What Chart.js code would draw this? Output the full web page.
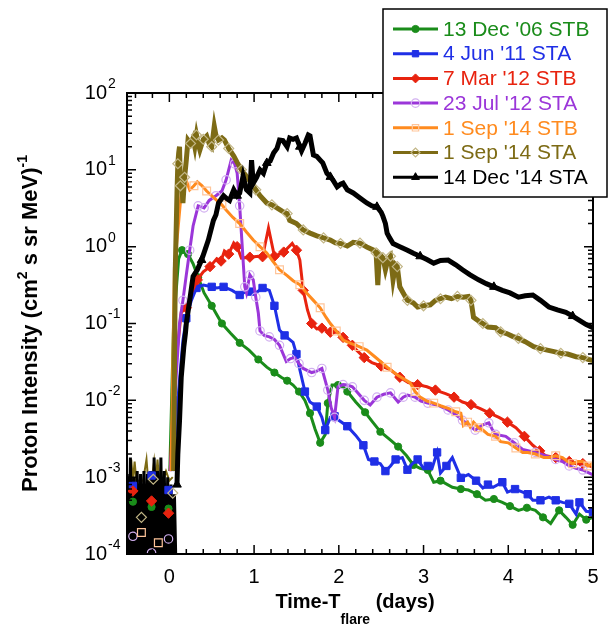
<!DOCTYPE html>
<html><head><meta charset="utf-8">
<script src="https://cdn.jsdelivr.net/npm/chart.js@4.4.1/dist/chart.umd.min.js"></script>
<style>html,body{margin:0;padding:0;background:#fff}</style>
</head><body>
<canvas id="c" width="608" height="640"></canvas>
<script>
// ---------------- data ----------------
const seriesLabels = ["13 Dec '06 STB","4 Jun '11 STA","7 Mar '12 STB","23 Jul '12 STA","1 Sep '14 STB","1 Sep '14 STA","14 Dec '14 STA"];
const xTickValues = [0,1,2,3,4,5];
const yTickExponents = [2,1,0,-1,-2,-3,-4];

const greenX = [-0.43,-0.21,-0.01,0.005,0.05,0.11,0.15,0.18,0.22,0.28,0.34,0.41,0.50,0.56,0.62,0.72,0.83,0.94,1.05,1.15,1.24,1.32,1.39,1.46,1.53,1.60,1.66,1.72,1.78,1.84,1.87,1.92,1.99,2.05,2.10,2.20,2.31,2.40,2.49,2.60,2.70,2.80,2.88,2.96,3.05,3.12,3.20,3.34,3.44,3.53,3.63,3.73,3.83,3.93,4.02,4.12,4.22,4.32,4.41,4.50,4.60,4.68,4.76,4.84,4.92,5.00];
const greenY = [4.8e-4,4.1e-4,3.9e-4,1.2e-3,0.1,0.7,0.9,0.88,0.8,0.6,0.4,0.25,0.17,0.13,0.1,0.075,0.056,0.045,0.034,0.027,0.023,0.02,0.018,0.0158,0.013,0.01,0.0068,0.0042,0.0028,0.0036,0.0092,0.0158,0.0158,0.015,0.013,0.0095,0.007,0.0052,0.0039,0.0031,0.0025,0.0019,0.00144,0.0013,0.00124,0.00086,0.0009,0.00074,0.0007,0.00068,0.0006,0.0005,0.00052,0.00047,0.00042,0.00037,0.0004,0.00037,0.0003,0.00025,0.00037,0.0003,0.00024,0.00033,0.00028,0.0003];

const blueX = [-0.43,-0.21,-0.01,0.04,0.10,0.16,0.20,0.26,0.32,0.40,0.50,0.56,0.64,0.74,0.83,0.90,0.96,1.02,1.10,1.18,1.24,1.30,1.36,1.46,1.50,1.54,1.60,1.66,1.74,1.80,1.84,1.90,1.95,2.00,2.10,2.20,2.29,2.35,2.42,2.49,2.55,2.61,2.67,2.75,2.81,2.87,2.93,3.00,3.05,3.10,3.16,3.20,3.27,3.34,3.44,3.53,3.62,3.70,3.76,3.82,3.93,3.99,4.08,4.17,4.23,4.29,4.38,4.48,4.56,4.64,4.72,4.80,4.84,4.92,5.00];
const blueY = [7.7e-4,1.05e-3,6.8e-4,1.2e-3,0.01,0.06,0.117,0.2,0.29,0.316,0.3,0.29,0.3,0.27,0.235,0.26,0.26,0.25,0.29,0.27,0.17,0.082,0.07,0.057,0.04,0.025,0.013,0.0095,0.0083,0.006,0.0041,0.006,0.0062,0.0055,0.0046,0.0035,0.0026,0.0017,0.0016,0.0015,0.0012,0.0014,0.0017,0.0018,0.00125,0.0015,0.0017,0.0013,0.0014,0.0013,0.0021,0.00113,0.0014,0.0018,0.00098,0.00108,0.0009,0.00072,0.0008,0.00074,0.00086,0.00064,0.0007,0.00064,0.0006,0.0005,0.0005,0.00055,0.0005,0.00047,0.00045,0.00033,0.00047,0.00036,0.00035];

const redX = [-0.43,-0.21,-0.01,0.01,0.06,0.14,0.20,0.26,0.33,0.40,0.48,0.56,0.61,0.65,0.70,0.76,0.80,0.85,0.95,1.05,1.10,1.17,1.24,1.30,1.35,1.45,1.50,1.54,1.58,1.63,1.68,1.74,1.80,1.86,1.90,1.99,2.05,2.10,2.16,2.21,2.30,2.39,2.50,2.61,2.72,2.82,2.93,3.04,3.14,3.26,3.36,3.46,3.56,3.67,3.78,3.89,3.99,4.09,4.19,4.29,4.37,4.44,4.56,4.64,4.72,4.80,4.88,5.00];
const redY = [6.6e-4,4.9e-4,3.4e-4,1.2e-3,0.02,0.14,0.16,0.25,0.37,0.47,0.55,0.7,0.65,0.88,0.8,1.12,1.0,0.71,0.73,0.75,0.74,1.75,0.75,0.8,0.85,1.1,0.9,0.67,0.27,0.15,0.1,0.085,0.087,0.08,0.077,0.077,0.066,0.061,0.052,0.045,0.036,0.031,0.028,0.025,0.02,0.017,0.016,0.015,0.0136,0.0122,0.011,0.0095,0.0088,0.0078,0.0068,0.006,0.0052,0.0044,0.0034,0.0026,0.0022,0.0019,0.0018,0.0017,0.0016,0.0015,0.0015,0.00135];

const purpleX = [-0.43,-0.21,-0.01,0.01,0.08,0.12,0.16,0.20,0.24,0.28,0.34,0.38,0.41,0.47,0.55,0.62,0.67,0.73,0.77,0.80,0.83,0.87,0.89,0.91,0.95,0.99,1.02,1.05,1.07,1.12,1.18,1.24,1.30,1.38,1.43,1.48,1.53,1.58,1.68,1.74,1.80,1.84,1.87,1.91,1.95,1.99,2.05,2.10,2.16,2.21,2.30,2.37,2.45,2.53,2.61,2.70,2.76,2.81,2.90,2.97,3.05,3.16,3.29,3.38,3.46,3.53,3.61,3.70,3.77,3.81,3.85,3.97,4.07,4.17,4.32,4.44,4.56,4.64,4.72,4.80,4.88,5.00];
const purpleY = [1.7e-4,1.03e-4,1.57e-4,1.2e-3,0.02,0.1,0.2,0.43,0.9,1.86,3.4,3.3,3.2,4.0,4.6,5.3,7.4,13.4,12,9.1,3.4,0.67,0.3,0.25,0.43,0.37,0.22,0.137,0.08,0.07,0.067,0.062,0.052,0.032,0.035,0.036,0.03,0.026,0.023,0.024,0.026,0.018,0.0136,0.008,0.006,0.015,0.016,0.0158,0.015,0.013,0.01,0.0087,0.011,0.012,0.0125,0.0095,0.011,0.0117,0.011,0.0098,0.0092,0.0087,0.0075,0.0065,0.0055,0.0048,0.0041,0.0048,0.0051,0.0042,0.0036,0.0034,0.0028,0.0023,0.0021,0.0019,0.0017,0.0016,0.0014,0.0013,0.00124,0.00107];

const orangeX = [-0.33,-0.13,0.02,0.06,0.10,0.14,0.16,0.20,0.24,0.29,0.33,0.38,0.44,0.50,0.56,0.62,0.67,0.75,0.83,0.91,0.99,1.07,1.15,1.22,1.30,1.39,1.46,1.54,1.62,1.70,1.78,1.85,1.90,1.97,2.05,2.14,2.24,2.33,2.45,2.57,2.70,2.84,2.90,2.96,3.04,3.12,3.20,3.30,3.38,3.44,3.47,3.52,3.55,3.59,3.65,3.70,3.76,3.85,3.91,4.00,4.09,4.17,4.23,4.32,4.42,4.48,4.56,4.64,4.70,4.76,4.82,4.88,4.94,5.00];
const orangeY = [1.9e-4,1.4e-4,1.2e-3,0.54,1.6,5,7.4,7.2,5.5,6.2,7.0,6.3,5.3,4.6,4.0,3.5,3.0,2.4,2.0,1.55,1.22,1.0,0.83,0.65,0.5,0.42,0.36,0.32,0.25,0.2,0.16,0.12,0.1,0.08,0.061,0.055,0.05,0.045,0.035,0.027,0.021,0.017,0.013,0.011,0.0098,0.0092,0.0085,0.0078,0.0071,0.0068,0.0047,0.0052,0.0045,0.0052,0.0044,0.0041,0.0036,0.0034,0.0029,0.0028,0.0024,0.0021,0.0021,0.002,0.0018,0.0018,0.0019,0.0018,0.0016,0.0015,0.0016,0.0016,0.0014,0.0015];

const oliveX = [-0.33,-0.19,0.04,0.05,0.07,0.09,0.10,0.11,0.12,0.13,0.14,0.16,0.18,0.20,0.22,0.25,0.28,0.30,0.32,0.34,0.36,0.40,0.44,0.47,0.50,0.53,0.55,0.58,0.62,0.65,0.70,0.76,0.80,0.85,0.90,0.97,1.02,1.07,1.15,1.21,1.27,1.33,1.39,1.42,1.50,1.58,1.66,1.74,1.82,1.90,1.96,2.02,2.10,2.17,2.25,2.33,2.41,2.44,2.46,2.48,2.52,2.55,2.58,2.61,2.64,2.67,2.69,2.72,2.76,2.81,2.88,2.93,3.00,3.08,3.14,3.20,3.26,3.33,3.40,3.47,3.53,3.56,3.59,3.64,3.70,3.76,3.85,3.91,3.98,4.05,4.12,4.20,4.30,4.38,4.46,4.54,4.62,4.70,4.80,4.88,4.95,5.00];
const oliveY = [3e-4,9.4e-4,6.2e-4,1.2e-3,0.5,5,12,16.6,20,6.2,9,3.7,8,13.4,24.4,22,26,20,28.4,22,18.1,25,27.5,22,20,37,28,24.4,26,24.4,19,15.1,12.5,10,8.5,6.7,5.5,4.6,3.7,3.5,3.2,2.9,2.7,2.2,2.0,1.65,1.5,1.38,1.3,1.22,1.12,1.1,1.02,1.14,1.11,0.99,0.9,0.83,0.316,0.8,0.72,0.5,0.68,0.75,0.37,0.58,0.55,0.3,0.25,0.2,0.185,0.164,0.17,0.175,0.2,0.21,0.22,0.21,0.225,0.22,0.225,0.2,0.12,0.11,0.1,0.09,0.088,0.078,0.074,0.068,0.064,0.058,0.05,0.047,0.045,0.043,0.041,0.04,0.037,0.036,0.034,0.033];

const blackX = [0.09,0.10,0.12,0.14,0.17,0.19,0.20,0.24,0.28,0.33,0.38,0.42,0.46,0.52,0.55,0.58,0.64,0.68,0.71,0.76,0.80,0.83,0.87,0.91,0.95,0.97,0.99,1.03,1.07,1.11,1.15,1.19,1.23,1.27,1.30,1.34,1.39,1.42,1.46,1.50,1.54,1.56,1.60,1.64,1.66,1.70,1.74,1.78,1.81,1.86,1.90,1.93,1.98,2.02,2.05,2.10,2.17,2.25,2.33,2.39,2.45,2.50,2.52,2.55,2.57,2.60,2.64,2.72,2.81,2.88,2.96,3.04,3.12,3.20,3.29,3.38,3.46,3.55,3.65,3.74,3.83,3.93,4.02,4.12,4.20,4.29,4.38,4.48,4.58,4.68,4.76,4.84,4.92,5.00];
const blackY = [8e-4,0.002,0.0055,0.02,0.049,0.075,0.1,0.2,0.41,0.5,0.67,0.9,1.22,2.2,2.6,3.7,4.6,4.2,4.0,5.5,4.6,5.0,8.3,5.5,5.0,13.4,6.7,8,10,9,12.3,13,16.6,19,24.4,24,20,26,25,26,20,17.6,22,28.4,27.6,15.6,15,13.4,12.3,9,8.1,7.4,6.0,6.5,6.7,5.5,5.0,4.3,3.7,3.4,3.3,2.8,2.5,2.0,1.5,1.3,1.1,1.0,0.9,0.82,0.75,0.68,0.61,0.66,0.67,0.58,0.5,0.43,0.37,0.33,0.3,0.27,0.25,0.22,0.23,0.235,0.2,0.164,0.15,0.14,0.125,0.11,0.097,0.088];

// pre-flare background noise of the 14 Dec '14 STA and 1 Sep '14 STA records
const blackPreX = [-0.50,-0.48,-0.46,-0.44,-0.42,-0.40,-0.38,-0.36,-0.34,-0.32,-0.30,-0.28,-0.26,-0.24,-0.22,-0.20,-0.18,-0.16,-0.14,-0.12,-0.10,-0.08,-0.06,-0.04,-0.02,0.00,0.02,0.04,0.06,0.08];
const blackPreY = [1.1e-3,5e-5,1.8e-3,5e-5,1.0e-3,5e-5,1.2e-3,5e-5,1.1e-3,5e-5,1.2e-3,5e-5,1.1e-3,5e-5,1.2e-3,5e-5,1.8e-3,5e-5,1.2e-3,5e-5,1.8e-3,5e-5,1.2e-3,5e-5,1.0e-3,5e-5,8e-4,5e-5,6e-4,5e-5];
const olivePreX = [-0.49,-0.47,-0.45,-0.43,-0.41,-0.39,-0.35,-0.31,-0.27,-0.25,-0.21,-0.18,-0.16,-0.14,-0.12,-0.08,-0.04,0.00,0.04];
const olivePreY = [9e-4,9e-4,1.7e-3,9e-4,1.6e-3,9e-4,9e-4,9e-4,1.7e-3,9e-4,9e-4,1.6e-3,9e-4,1.7e-3,9e-4,9e-4,1.2e-3,9e-4,1e-3];

// ---------------- styling ----------------
const FONT = '"Liberation Sans", Arial, sans-serif';
const zip = (xs, ys) => xs.map((x, i) => ({x, y: ys[i]}));

const styles = [
  {x: greenX,  y: greenY,  color:'#1a8c1a', mk:'#1a8c1a', fill:true,  ps:'circle',   r:3.6, step:2,  bw:3,   order:6},
  {x: blueX,   y: blueY,   color:'#1f2fe6', mk:'#1f2fe6', fill:true,  ps:'rect',     r:5.2, step:2,  bw:3,   order:5},
  {x: redX,    y: redY,    color:'#e8230f', mk:'#e8230f', fill:true,  ps:'rectRot',  r:5.2, step:2,  bw:3,   order:4},
  {x: purpleX, y: purpleY, color:'#9b36d9', mk:'#d2b0f0', fill:false, ps:'circle',   r:4.2, step:2,  bw:3,   order:3},
  {x: orangeX, y: orangeY, color:'#ff8b1f', mk:'#ffc59a', fill:false, ps:'rect',     r:5.5, step:3,  bw:3,   order:2},
  {x: oliveX,  y: oliveY,  color:'#7d6b15', mk:'#c2b686', fill:false, ps:'rectRot',  r:5.0, step:3,  bw:5,   order:1},
  {x: blackX,  y: blackY,  color:'#000000', mk:'#000000', fill:true,  ps:'triangle', r:5.0, step:10, bw:5,   order:0}
];

const hiddenSeg = ctx => (ctx.p0.parsed.x < 0.1 && ctx.p0.parsed.y < 1.15e-3) ? 'rgba(0,0,0,0)' : undefined;

const datasets = styles.map((s, k) => ({
  label: seriesLabels[k],
  data: zip(s.x, s.y),
  borderColor: s.color,
  borderWidth: s.bw,
  borderJoinStyle: 'miter',
  pointStyle: s.ps,
  pointBackgroundColor: s.fill ? s.mk : 'rgba(0,0,0,0)',
  pointBorderColor: s.mk,
  pointBorderWidth: s.fill ? 1 : 1.2,
  pointRadius: ctx => {
    const p = ctx.raw; if (!p) return 0;
    if (k !== 6 && p.x < 0.1) return p.y < 1.15e-3 ? s.r : 0;
    return (ctx.dataIndex % s.step === 0) ? s.r : 0;
  },
  segment: k !== 6 ? {borderColor: hiddenSeg} : undefined,
  order: s.order,
  tension: 0,
  showInLegend: true
}));
datasets.push({label:'', data: zip(blackPreX, blackPreY), borderColor:'#000', borderWidth:3, pointRadius:0, order:7});
datasets.push({label:'', data: zip(olivePreX, olivePreY), borderColor:'#7d6b15', borderWidth:2, pointRadius:0, order:8});

// ---------------- plugins ----------------
function richWidth(ctx, parts){
  let w = 0;
  for (const p of parts){ ctx.font = p.font; w += ctx.measureText(p.t).width; }
  return w;
}
function drawRich(ctx, parts, x, y){
  let cx = x;
  for (const p of parts){
    ctx.font = p.font;
    ctx.fillText(p.t, cx, y + (p.dy || 0));
    cx += ctx.measureText(p.t).width;
  }
}

const decor = {
  id: 'decor',
  afterDatasetsDraw(chart){
    const {ctx, chartArea: a, scales: {x, y}} = chart;
    ctx.save();
    ctx.strokeStyle = '#000';
    ctx.lineWidth = 2;
    ctx.strokeRect(a.left, a.top, a.right - a.left, a.bottom - a.top);
    ctx.lineWidth = 1.5;
    ctx.beginPath();
    for (let k = -2; k <= 25; k++){
      const px = x.getPixelForValue(k / 5);
      const L = (k % 5 === 0) ? 9 : 5;
      ctx.moveTo(px, a.bottom); ctx.lineTo(px, a.bottom - L);
      ctx.moveTo(px, a.top); ctx.lineTo(px, a.top + L);
    }
    for (let e = -4; e <= 2; e++){
      for (let m = 1; m <= 9; m++){
        if (e === 2 && m > 1) break;
        const py = y.getPixelForValue(m * Math.pow(10, e));
        const L = m === 1 ? 9 : 5;
        ctx.moveTo(a.left, py); ctx.lineTo(a.left + L, py);
        ctx.moveTo(a.right, py); ctx.lineTo(a.right - L, py);
      }
    }
    ctx.stroke();
    ctx.fillStyle = '#000';
    ctx.textBaseline = 'middle';
    ctx.textAlign = 'center';
    ctx.font = '20px ' + FONT;
    for (const v of xTickValues) ctx.fillText(String(v), x.getPixelForValue(v), 577);
    for (const e of yTickExponents){
      const py = y.getPixelForValue(Math.pow(10, e));
      ctx.textAlign = 'right';
      ctx.font = '20px ' + FONT;
      ctx.fillText('10', a.left - 20, py);
      ctx.textAlign = 'left';
      ctx.font = '14px ' + FONT;
      ctx.fillText(String(e), a.left - 19, py - 9);
    }
    ctx.textAlign = 'left';
    ctx.textBaseline = 'alphabetic';
    const big = 'bold 20px ' + FONT, small = 'bold 14px ' + FONT;
    const xt = [{t:'Time-T', font:big}, {t:'flare', font:small, dy:16}, {t:' (days)', font:big}];
    const xw = richWidth(ctx, xt);
    drawRich(ctx, xt, (a.left + a.right) / 2 - 5 - xw / 2, 608);
    const yb = 'bold 22px ' + FONT, ys = 'bold 14px ' + FONT;
    const yt = [{t:'Proton Intensity (cm', font:yb}, {t:'2', font:ys, dy:-10}, {t:' s sr MeV)', font:yb}, {t:'-1', font:ys, dy:-10}];
    const yw = richWidth(ctx, yt);
    ctx.translate(37, (a.top + a.bottom) / 2);
    ctx.rotate(-Math.PI / 2);
    drawRich(ctx, yt, -yw / 2, 0);
    ctx.restore();
  },
  afterDraw(chart){
    const ctx = chart.ctx;
    ctx.save();
    const bx = 383, by = 9, bw = 224, bh = 188;
    ctx.fillStyle = '#fff';
    ctx.fillRect(bx, by, bw, bh);
    ctx.strokeStyle = '#000';
    ctx.lineWidth = 1.5;
    ctx.strokeRect(bx, by, bw, bh);
    chart.data.datasets.filter(d => d.showInLegend).forEach((d, i) => {
      const s = styles[i];
      const yy = 29 + i * 24.7;
      ctx.strokeStyle = s.color;
      ctx.lineWidth = 3;
      ctx.beginPath(); ctx.moveTo(393, yy); ctx.lineTo(438, yy); ctx.stroke();
      ctx.fillStyle = s.fill ? s.mk : 'rgba(0,0,0,0)';
      ctx.strokeStyle = s.mk;
      ctx.lineWidth = s.fill ? 1 : 1.2;
      Chart.helpers.drawPoint(ctx, {pointStyle: s.ps, radius: Math.min(s.r, 4.5), rotation: 0, borderWidth: ctx.lineWidth}, 415.5, yy);
      ctx.fillStyle = s.color;
      ctx.font = '21px ' + FONT;
      ctx.textAlign = 'left';
      ctx.textBaseline = 'middle';
      ctx.fillText(d.label, 443, yy + 1);
    });
    ctx.restore();
  }
};

new Chart(document.getElementById('c'), {
  type: 'line',
  data: {datasets},
  options: {
    responsive: false,
    animation: false,
    devicePixelRatio: 1,
    events: [],
    layout: {padding: {left: 127, top: 93, right: 15, bottom: 86}},
    plugins: {legend: {display: false}, tooltip: {enabled: false}},
    scales: {
      x: {type: 'linear', min: -0.5, max: 5, display: false},
      y: {type: 'logarithmic', min: 1e-4, max: 1e2, display: false}
    }
  },
  plugins: [decor]
});
</script>
</body></html>
